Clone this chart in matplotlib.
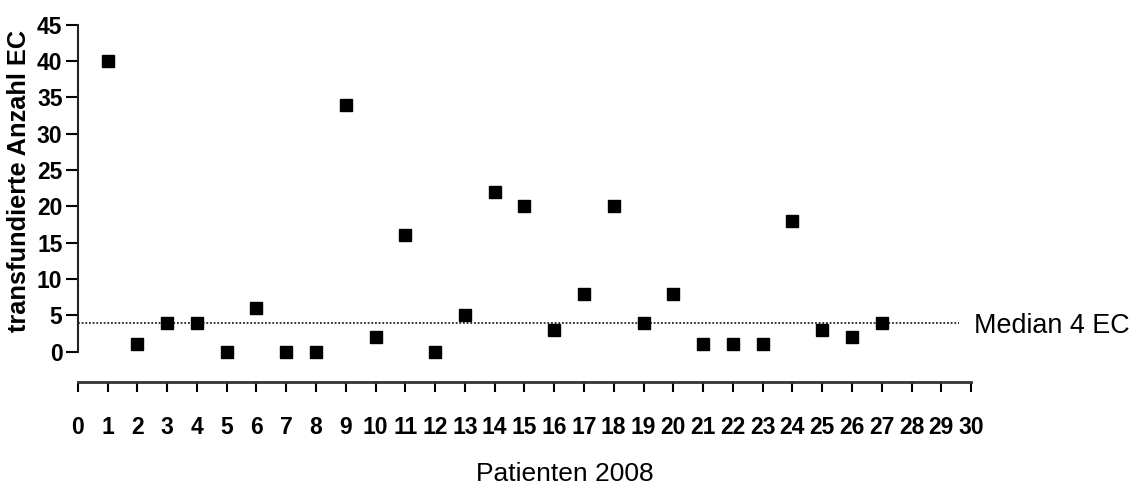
import numpy as np
import matplotlib
matplotlib.use("Agg")
import matplotlib.pyplot as plt

plt.rcParams['font.family'] = ['Liberation Sans', 'DejaVu Sans']

# transfused EC per patient
patients = list(range(1, 28))
ec_count = [40, 1, 4, 4, 0, 6, 0, 0, 34, 2, 16, 0, 5, 22, 20, 3, 8, 20, 4, 8,
            1, 1, 1, 18, 3, 2, 4]
median_val = 3.9
median_label = 'Median 4 EC'

fig = plt.figure(figsize=(11.38, 4.86), dpi=100)
ax = fig.add_axes([0.0683, 0.2146, 0.785, 0.7346])

ax.plot(patients, ec_count, 's', color='black', markersize=8.9, clip_on=False)
ax.hlines(median_val, 0, 29.6, colors='black', linestyles=(0, (1.2, 1.2)), linewidth=1.1)
ax.text(30.1, median_val - 0.3, median_label, fontsize=19.4, va='center', ha='left')

ax.set_xlim(0, 30)
ax.set_ylim(-4.13, 45)
ax.set_xticks(range(0, 31))
ax.set_yticks(range(0, 46, 5))

for s in ['top', 'right']:
    ax.spines[s].set_visible(False)
ax.spines['left'].set_bounds(0, 45)
ax.spines['left'].set_color('#222222')
ax.spines['bottom'].set_color('#333333')
ax.spines['left'].set_linewidth(1.5)
ax.spines['bottom'].set_linewidth(2)

ax.tick_params(axis='y', direction='out', length=9, width=1.5, labelsize=16.5, pad=2)
ax.tick_params(axis='x', direction='out', length=7, width=1.5, labelsize=16.5, pad=18)
for lab in ax.get_xticklabels() + ax.get_yticklabels():
    lab.set_fontweight('bold')

fig.text(19 / 1138, 1 - 180.5 / 486, 'transfundierte Anzahl EC', rotation=90,
         fontsize=18.3, fontweight='bold', ha='center', va='center')
fig.text(565 / 1138, 1 - 474 / 486, 'Patienten 2008', fontsize=19,
         ha='center', va='center')

fig.savefig('out.png', dpi=100)
